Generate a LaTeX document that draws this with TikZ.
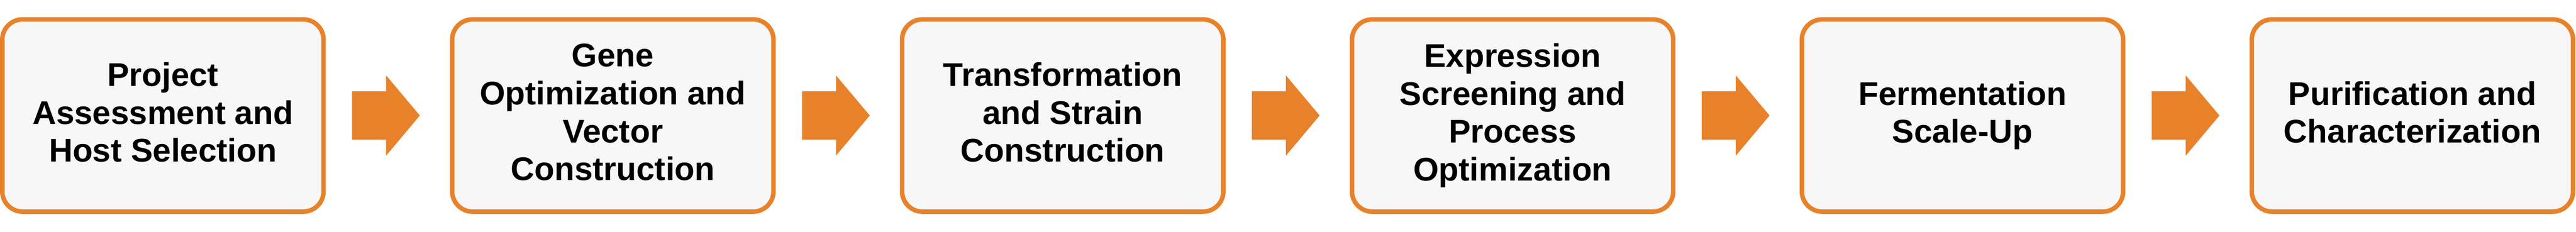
\documentclass[tikz,border=0pt]{standalone}
\usepackage{fontspec}
\setmainfont{Liberation Sans}
\usetikzlibrary{math,calc,shapes.arrows}

\definecolor{steporange}{HTML}{E8822A}
\definecolor{stepgray}{HTML}{F7F7F7}
\newcommand{\stepstrut}{\vrule width 0pt height 19.6pt depth 4.3pt}

\tikzset{
  stepbox/.style={draw=steporange, line width=0.1cm, fill=stepgray,
    rounded corners=0.45cm, minimum width=7.11cm, minimum height=4.26cm,
    inner sep=0pt, align=center,
    font=\fontsize{20.66}{23.9}\selectfont\bfseries,
    execute at begin node=\stepstrut, execute at end node=\stepstrut},
  flowarrow/.style={single arrow, fill=steporange, draw=none,
    inner xsep=0pt, inner ysep=0.53cm, outer sep=0pt, anchor=tail,
    minimum height=1.5cm, minimum width=1.77cm,
    single arrow head extend=0.355cm, single arrow tip angle=100}
}

\begin{document}
\begin{tikzpicture}
  \tikzmath{\p = 9.955;}
  \useasboundingbox (0, 0) rectangle (57, 5.13);

  \node[stepbox] (p1) at (3.605, 2.57) {Project\\Assessment and\\Host Selection};
  \node[stepbox] (p2) at (3.605+\p, 2.57) {Gene\\Optimization and\\Vector\\Construction};
  \node[stepbox] (p3) at (3.605+2*\p, 2.57) {Transformation\\and Strain\\Construction};
  \node[stepbox] (p4) at (3.605+3*\p, 2.57) {Expression\\Screening and\\Process\\Optimization};
  \node[stepbox] (p5) at (3.605+4*\p, 2.57) {Fermentation\\Scale-Up};
  \node[stepbox] (p6) at (3.605+5*\p, 2.57) {Purification and\\Characterization};

  \node[flowarrow] (a1) at ($(p1.east)+(0.58, 0)$) {};
  \node[flowarrow] (a2) at ($(p2.east)+(0.58, 0)$) {};
  \node[flowarrow] (a3) at ($(p3.east)+(0.58, 0)$) {};
  \node[flowarrow] (a4) at ($(p4.east)+(0.58, 0)$) {};
  \node[flowarrow] (a5) at ($(p5.east)+(0.58, 0)$) {};
\end{tikzpicture}
\end{document}
